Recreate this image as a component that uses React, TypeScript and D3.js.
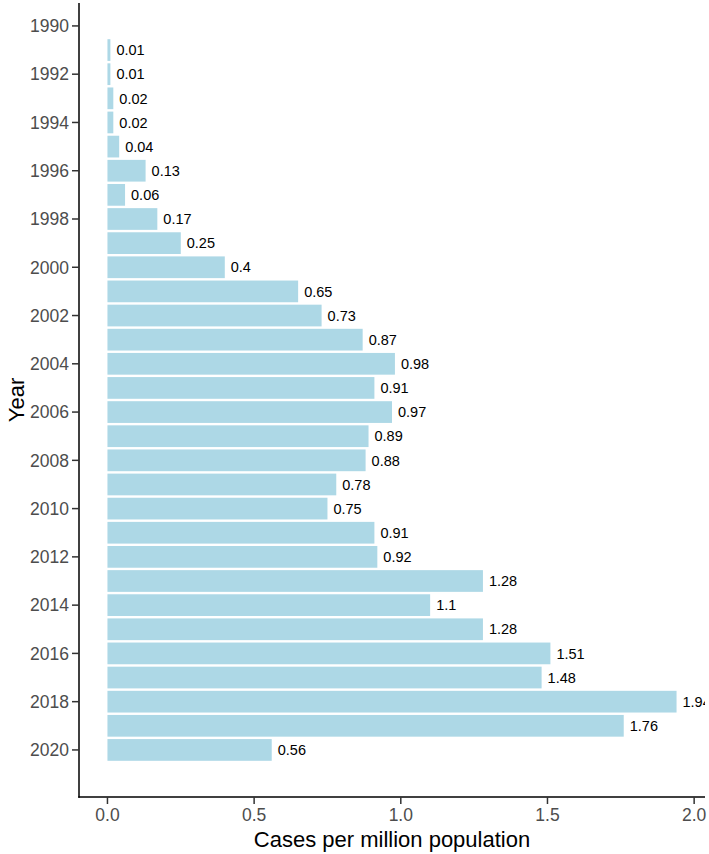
import React from "react";
import * as d3 from "d3";

const years: number[] = d3.range(1991, 2021);
const values: number[] = [
  0.01, 0.01, 0.02, 0.02, 0.04, 0.13, 0.06, 0.17, 0.25, 0.4,
  0.65, 0.73, 0.87, 0.98, 0.91, 0.97, 0.89, 0.88, 0.78, 0.75,
  0.91, 0.92, 1.28, 1.1, 1.28, 1.51, 1.48, 1.94, 1.76, 0.56,
];
const yTicks: number[] = d3.range(1990, 2021, 2);
const xTicks: number[] = [0, 0.5, 1, 1.5, 2];
const xTitle = "Cases per million population";
const yTitle = "Year";

export default function App() {
  const W = 709, H = 854;
  const left = 79, right = 705, top = 3, bottom = 797;
  const x = d3.scaleLinear().domain([-0.097, 2.037]).range([left, right]);
  const y = d3.scaleLinear().domain([1989.05, 2021.95]).range([top, bottom]);
  const fmt = d3.format(".1f");
  const font = "'Liberation Sans', Arial, sans-serif";
  return (
    <svg width={W} height={H} style={{ position: "absolute", left: 0, top: 0, background: "#fff" }} fontFamily={font}>
      <defs>
        <clipPath id="panel">
          <rect x={left} y={top} width={right - left} height={bottom - top} />
        </clipPath>
      </defs>
      <g clipPath="url(#panel)">
        {years.map((yr, i) => (
          <rect key={yr} x={x(0)} y={y(yr - 0.45)} width={x(values[i]) - x(0)} height={y(yr + 0.45) - y(yr - 0.45)} fill="#ADD8E6" />
        ))}
        {years.map((yr, i) => (
          <text key={"t" + yr} x={x(values[i]) + 6} y={y(yr)} dy="0.36em" fontSize={14.5} fill="#000">
            {String(values[i])}
          </text>
        ))}
      </g>
      {/* axes */}
      <line x1={left} x2={left} y1={top} y2={bottom + 0.75} stroke="#000" strokeWidth={1.5} />
      <line x1={left - 0.75} x2={right} y1={bottom} y2={bottom} stroke="#000" strokeWidth={1.5} />
      {yTicks.map((t) => (
        <g key={"y" + t}>
          <line x1={left - 7} x2={left} y1={y(t)} y2={y(t)} stroke="#333" strokeWidth={1.5} />
          <text x={left - 10} y={y(t)} dy="0.36em" textAnchor="end" fontSize={17.5} fill="#4D4D4D">{t}</text>
        </g>
      ))}
      {xTicks.map((t) => (
        <g key={"x" + t}>
          <line x1={x(t)} x2={x(t)} y1={bottom} y2={bottom + 7} stroke="#333" strokeWidth={1.5} />
          <text x={x(t)} y={bottom + 24} textAnchor="middle" fontSize={17.5} fill="#4D4D4D">{fmt(t)}</text>
        </g>
      ))}
      <text x={(left + right) / 2} y={847} textAnchor="middle" fontSize={22} fill="#000">{xTitle}</text>
      <text transform={`translate(24, ${(top + bottom) / 2}) rotate(-90)`} textAnchor="middle" fontSize={22} fill="#000">{yTitle}</text>
    </svg>
  );
}
